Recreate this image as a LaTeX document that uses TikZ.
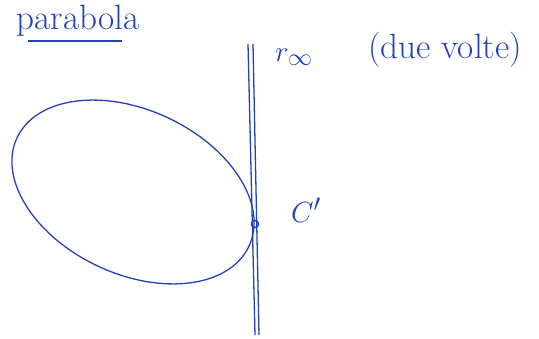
\documentclass[tikz,border=0pt]{standalone}
\usepackage{amsmath,amssymb}
\usepackage{tikz}
\definecolor{ink}{RGB}{35,65,185}

\begin{document}
\begin{tikzpicture}[x=0.03cm,y=-0.03cm,line width=1.1pt,ink,
  hand/.style={text=ink,font=\fontsize{30}{34}\selectfont}]
\useasboundingbox (0,0) rectangle (539,338);
% title
\node[hand,anchor=west] (title) at (12,21) {parabola};
\draw[line width=1.3pt] (28,41) -- (122,41);
% the conic
\draw (133,192) ellipse[x radius=128,y radius=82,rotate=-25];
% the line at infinity, drawn twice
\draw (248,44) -- (255,335);
\draw (253,44) -- (259,335);
\coordinate (C) at (255,224);
\draw[line width=1.3pt] (C) circle (3.5);
\node[hand] (rinf) at (294,57) {$r_\infty$};
\node[hand,anchor=west] (due) at (364,50) {(due volte)};
\node[hand] (Cp) at (306,210) {$C'$};
\end{tikzpicture}
\end{document}
